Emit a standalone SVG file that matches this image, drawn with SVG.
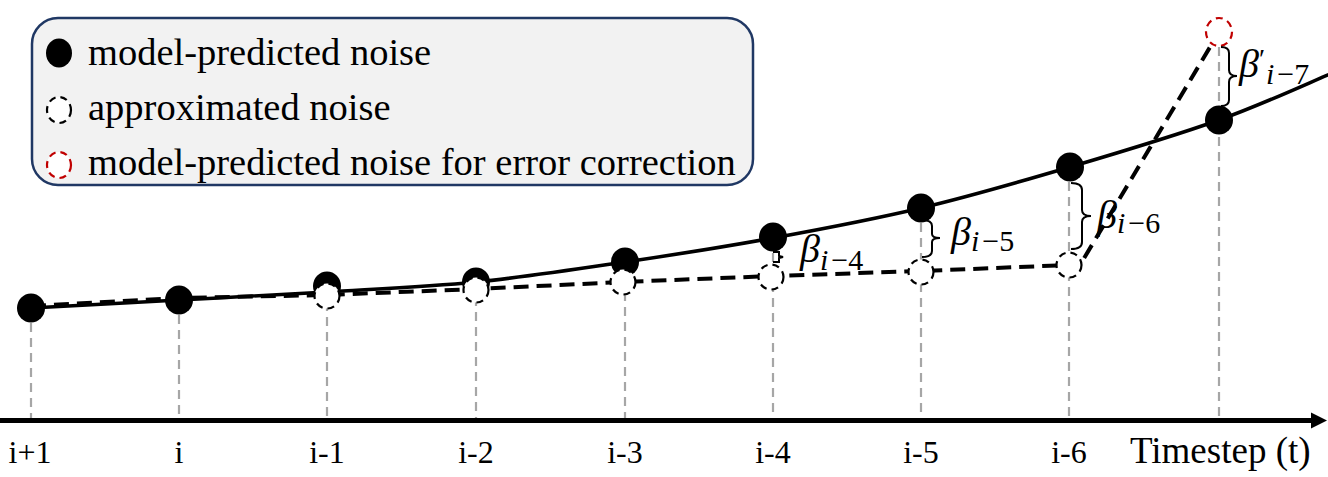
<svg xmlns="http://www.w3.org/2000/svg" width="1328" height="477" viewBox="0 0 1328 477">
<defs>
<style>
.grid{stroke:#a6a6a6;stroke-width:2.2;stroke-dasharray:9 6;fill:none}
.curve{stroke:#000;stroke-width:3.5;fill:none}
.approx{stroke:#000;stroke-width:4;stroke-dasharray:15 8;fill:none}
.dot{fill:#000}
.hollow{fill:#fff;stroke:#000;stroke-width:2.2;stroke-dasharray:7 5}
.red{fill:#fff;stroke:#c00000;stroke-width:2.2;stroke-dasharray:7 5}
.brace{fill:none;stroke:#000;stroke-width:2}
.lbl{font-family:"Liberation Serif","Times New Roman",serif;font-size:32px;fill:#000}
.leg{font-family:"Liberation Serif","Times New Roman",serif;font-size:38.5px;fill:#000}
.beta{font-family:"Liberation Serif","Times New Roman",serif;font-size:40px;font-style:italic;fill:#000}
.sub{font-size:30px}
.up{font-style:normal}
</style>
</defs>
<g id="legend">
<rect x="32" y="18" width="721" height="167" rx="26" fill="#f2f2f2" stroke="#203864" stroke-width="2.5"/>
<ellipse cx="59" cy="53" rx="13" ry="14.5" class="dot"/>
<text x="88" y="65" class="leg">model-predicted noise</text>
<ellipse cx="59" cy="110" rx="12" ry="13" class="hollow"/>
<text x="88" y="120" class="leg">approximated noise</text>
<ellipse cx="59" cy="165" rx="12" ry="13" class="red"/>
<text x="88" y="175" class="leg">model-predicted noise for error correction</text>
</g>
<g id="gridlines">
<line x1="31" y1="308" x2="31" y2="418" class="grid"/>
<line x1="179" y1="300" x2="179" y2="418" class="grid"/>
<line x1="327" y1="287" x2="327" y2="418" class="grid"/>
<line x1="476" y1="282" x2="476" y2="418" class="grid"/>
<line x1="625" y1="262" x2="625" y2="418" class="grid"/>
<line x1="773" y1="238" x2="773" y2="418" class="grid"/>
<line x1="921" y1="208" x2="921" y2="418" class="grid"/>
<line x1="1069" y1="167" x2="1069" y2="418" class="grid"/>
<line x1="1219" y1="32" x2="1219" y2="418" class="grid"/>
</g>
<g id="axis">
<line x1="0" y1="420.5" x2="1314" y2="420.5" stroke="#000" stroke-width="5"/>
<polygon points="1311,412.5 1327,420.5 1311,428.5" fill="#000"/>
<text x="30" y="463" class="lbl" text-anchor="middle">i+1</text>
<text x="179" y="463" class="lbl" text-anchor="middle">i</text>
<text x="327" y="463" class="lbl" text-anchor="middle">i-1</text>
<text x="476" y="463" class="lbl" text-anchor="middle">i-2</text>
<text x="625" y="463" class="lbl" text-anchor="middle">i-3</text>
<text x="773" y="463" class="lbl" text-anchor="middle">i-4</text>
<text x="921" y="463" class="lbl" text-anchor="middle">i-5</text>
<text x="1069" y="463" class="lbl" text-anchor="middle">i-6</text>
<text x="1130" y="463" class="lbl" style="font-size:37px">Timestep (t)</text>
</g>
<g id="connectors">
<polyline class="approx" points="31,306 179,298 327,295 476,289 623,282 773,276 921,271 1069,265 1080,265 1219,32"/>
<path class="curve" d="M31,308 C55.7,306.7 129.7,302.7 179,300 C228.3,297.3 277.5,295 327,292 C376.5,289 426.3,287 476,282 C525.7,277 575.5,269.3 625,262 C674.5,254.7 723.7,247 773,238 C822.3,229 871.5,219.8 921,208 C970.5,196.2 1020.3,181.7 1070,167 C1119.7,152.3 1175.7,135.5 1219,120 C1262.3,104.5 1311.5,81.7 1330,74"/>
</g>
<g id="predicted">
<ellipse cx="31" cy="308" rx="14" ry="14.5" class="dot"/>
<ellipse cx="179" cy="300" rx="14" ry="14.5" class="dot"/>
<ellipse cx="327" cy="286" rx="14" ry="14.5" class="dot"/>
<ellipse cx="476" cy="282" rx="14" ry="14.5" class="dot"/>
<ellipse cx="625" cy="262" rx="14" ry="14.5" class="dot"/>
<ellipse cx="773" cy="237" rx="14" ry="14.5" class="dot"/>
<ellipse cx="921" cy="208" rx="14" ry="14.5" class="dot"/>
<ellipse cx="1070" cy="167" rx="14" ry="14.5" class="dot"/>
<ellipse cx="1219" cy="120" rx="14" ry="14.5" class="dot"/>
</g>
<g id="approximated">
<circle cx="327" cy="296" r="12.5" class="hollow"/>
<circle cx="476" cy="290" r="12.5" class="hollow"/>
<circle cx="623" cy="282" r="12.5" class="hollow"/>
<circle cx="771" cy="277" r="12.5" class="hollow"/>
<circle cx="921" cy="272" r="12.5" class="hollow"/>
<circle cx="1069" cy="265" r="12.5" class="hollow"/>
</g>
<g id="correction">
<ellipse cx="1219" cy="32" rx="13" ry="14" class="red"/>
</g>
<g id="betas">
<path class="brace" d="M773,252 L779,252 L779,256 L783,257 L779,258 L779,262 L773,262"/>
<text x="800" y="262" class="beta">β<tspan class="sub" dy="8">i</tspan><tspan class="sub up" dx="3">−4</tspan></text>
<path class="brace" d="M922,220 Q932,220 932,226 L932,234 Q932,238 940,238 Q932,238 932,242 L932,251 Q932,257 922,257"/>
<text x="951" y="245" class="beta">β<tspan class="sub" dy="6">i</tspan><tspan class="sub up" dx="3">−5</tspan></text>
<path class="brace" d="M1071,183 Q1082,183 1082,190 L1082,210 Q1082,216 1091,216 Q1082,216 1082,222 L1082,242 Q1082,249 1071,249"/>
<text x="1097" y="228" class="beta">β<tspan class="sub" dy="5">i</tspan><tspan class="sub up" dx="3">−6</tspan></text>
<path class="brace" d="M1221,47 Q1229,47 1229,53 L1229,70 Q1229,76 1237,76 Q1229,76 1229,82 L1229,100 Q1229,106 1221,106"/>
<text x="1239" y="77" class="beta">β</text>
<text x="1259" y="68" class="beta up" style="font-size:28px">′</text>
<text x="1266" y="84" class="beta sub">i<tspan class="up" dx="3">−7</tspan></text>
</g>
</svg>
